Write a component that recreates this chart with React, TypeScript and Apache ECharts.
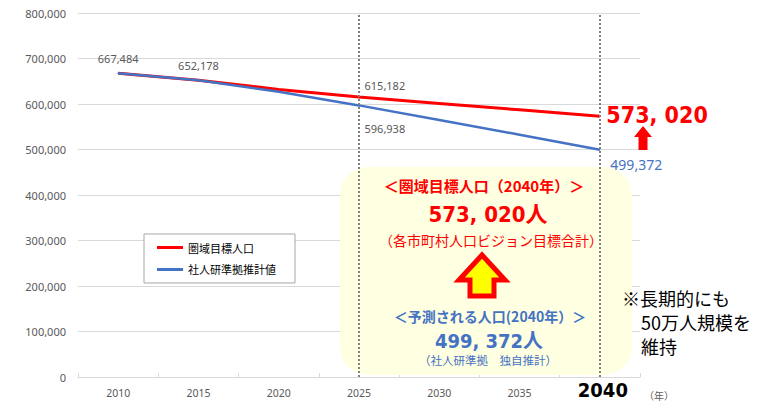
import React, { useEffect, useRef } from "react";
import * as echarts from "echarts";

const years = ["2010", "2015", "2020", "2025", "2030", "2035", "2040"];
const targetPop = [667484, 652178, 632000, 615182, 601100, 587100, 573020];
const projectedPop = [667484, 652178, 627000, 596938, 565000, 532500, 499372];
const seriesNames = ["圏域目標人口", "社人研準拠推計値"];
const markYears = ["2025", "2040"];
const yMin = 0;
const yMax = 800000;
const yInterval = 100000;

const JP = "'Noto Sans CJK JP', 'Noto Sans', sans-serif";
const NARROW = "'Liberation Sans Narrow', 'DejaVu Sans Condensed', 'Noto Sans CJK JP', sans-serif";
const LAT = "'Noto Sans', 'Open Sans', sans-serif";
const RED = "#FF0000";
const BLUE = "#4472C4";
const GRAY = "#595959";

const fmt = (v: number) => v.toLocaleString("en-US");

export default function App() {
  const ref = useRef<HTMLDivElement>(null);
  useEffect(() => {
    if (!ref.current) return;
    const chart = echarts.init(ref.current, null, { renderer: "svg" });

    const smallLabel = { color: GRAY, fontSize: 11, fontFamily: LAT, formatter: (p: any) => fmt(p.value) };

    const redData = targetPop.map((v, i) => {
      const y = years[i];
      if (y === "2010" || y === "2015")
        return { value: v, label: { show: true, position: "top", distance: 9, ...smallLabel } };
      if (y === "2025")
        return { value: v, label: { show: true, position: "right", distance: 5, offset: [0, -12], ...smallLabel } };
      if (y === "2040")
        return {
          value: v,
          label: {
            show: true,
            position: "right",
            distance: 6,
            offset: [0, -1],
            color: RED,
            fontSize: 23,
            fontWeight: "bold",
            fontFamily: NARROW,
            formatter: (p: any) => fmt(p.value).replace(",", ", "),
          },
        };
      return v;
    });

    const blueData = projectedPop.map((v, i) => {
      const y = years[i];
      if (y === "2025")
        return { value: v, label: { show: true, position: "right", distance: 5, offset: [0, 23], ...smallLabel } };
      if (y === "2040")
        return {
          value: v,
          label: {
            show: true,
            position: "right",
            distance: 10,
            offset: [0, 15],
            color: BLUE,
            fontSize: 14,
            fontFamily: LAT,
            formatter: (p: any) => fmt(p.value),
          },
        };
      return v;
    });

    const t = (text: string, x: number, y: number, fill: string, fontSize: number, extra: any = {}) => ({
      type: "text",
      z: 10,
      style: { text, x, y, fill, fontSize, fontFamily: JP, align: "center", verticalAlign: "middle", ...extra },
    });

    chart.setOption({
      animation: false,
      backgroundColor: "#ffffff",
      grid: { left: 78, right: 137, top: 13, bottom: 28, containLabel: false },
      legend: {
        data: seriesNames,
        orient: "vertical",
        left: 144,
        top: 234,
        padding: [8, 19, 8, 13],
        itemGap: 11,
        itemWidth: 26,
        itemHeight: 3,
        icon: "rect",
        borderColor: "#a6a6a6",
        borderWidth: 1,
        backgroundColor: "#ffffff",
        textStyle: { color: "#000", fontSize: 11, fontFamily: JP },
      },
      xAxis: {
        type: "category",
        data: years,
        boundaryGap: true,
        name: "（年）",
        nameLocation: "end",
        nameGap: 4,
        nameTextStyle: { color: GRAY, fontSize: 10, fontFamily: JP, verticalAlign: "top", padding: [14, 0, 0, 0] },
        axisLine: { show: true, lineStyle: { color: "#d9d9d9", width: 1 } },
        axisTick: { show: true, inside: true, length: 4, lineStyle: { color: "#d9d9d9" } },
        axisLabel: {
          margin: 10,
          color: GRAY,
          fontSize: 10.5,
          lineHeight: 12,
          fontFamily: LAT,
          formatter: (v: string) => (v === "2040" ? `{big|${v}}` : v),
          rich: { big: { fontSize: 20, fontWeight: "bold", lineHeight: 5, color: "#000", fontFamily: NARROW, padding: [0, 0, 0, 6] } },
        },
        splitLine: { show: false },
      },
      yAxis: {
        type: "value",
        min: yMin,
        max: yMax,
        interval: yInterval,
        axisLine: { show: false },
        axisTick: { show: false },
        axisLabel: { color: GRAY, fontSize: 11, fontFamily: LAT, margin: 12, formatter: (v: number) => fmt(v) },
        splitLine: { lineStyle: { color: "#d9d9d9", width: 1 } },
      },
      series: [
        {
          name: seriesNames[0],
          type: "line",
          data: redData,
          symbol: "circle",
          symbolSize: 1,
          showSymbol: true,
          itemStyle: { color: RED },
          lineStyle: { color: RED, width: 3 },
          label: { show: false },
          z: 3,
          markLine: {
            silent: true,
            symbol: ["none", "none"],
            label: { show: false },
            lineStyle: { color: "#808080", width: 2, type: [2, 2] },
            data: markYears.map((y) => ({ xAxis: y })),
          },
        },
        {
          name: seriesNames[1],
          type: "line",
          data: blueData,
          symbol: "circle",
          symbolSize: 1,
          showSymbol: true,
          itemStyle: { color: BLUE },
          lineStyle: { color: BLUE, width: 2.5 },
          label: { show: false },
          z: 4,
        },
      ],
      graphic: [
        {
          type: "rect",
          z: 1,
          shape: { x: 340, y: 167, width: 292, height: 208, r: 28 },
          style: { fill: "#FFFFE1" },
        },
        t("＜圏域目標人口（2040年）＞", 484, 185, RED, 15, { fontWeight: "bold" }),
        t("573, 020人", 488, 214, RED, 22, { fontWeight: "bold", fontFamily: NARROW }),
        t("（各市町村人口ビジョン目標合計）", 491, 240, RED, 14),
        {
          type: "polygon",
          z: 10,
          shape: {
            points: [
              [482, 255],
              [505, 280],
              [494, 280],
              [494, 296],
              [470, 296],
              [470, 280],
              [459, 280],
            ],
          },
          style: { fill: "#FFFF00", stroke: RED, lineWidth: 5, lineJoin: "miter" },
        },
        t("＜予測される人口(2040年）＞", 490, 316, BLUE, 14, { fontWeight: "bold" }),
        t("499, 372人", 489, 341, BLUE, 20, { fontWeight: "bold", fontFamily: NARROW }),
        t("（社人研準拠　独自推計）", 488, 360, BLUE, 11.5),
        {
          type: "polygon",
          z: 10,
          shape: {
            points: [
              [643, 126],
              [652, 137],
              [647.5, 137],
              [647.5, 150],
              [638.5, 150],
              [638.5, 137],
              [634, 137],
            ],
          },
          style: { fill: RED },
        },
        t("※長期的にも", 622, 298, "#000", 18, { align: "left" }),
        t("50万人規模を", 641, 322, "#000", 18, { align: "left" }),
        t("維持", 641, 346, "#000", 18, { align: "left" }),
      ],
    });

    return () => chart.dispose();
  }, []);

  return (
    <div
      ref={ref}
      style={{ position: "fixed", left: 0, top: 0, width: 777, height: 405, background: "#fff" }}
    />
  );
}
